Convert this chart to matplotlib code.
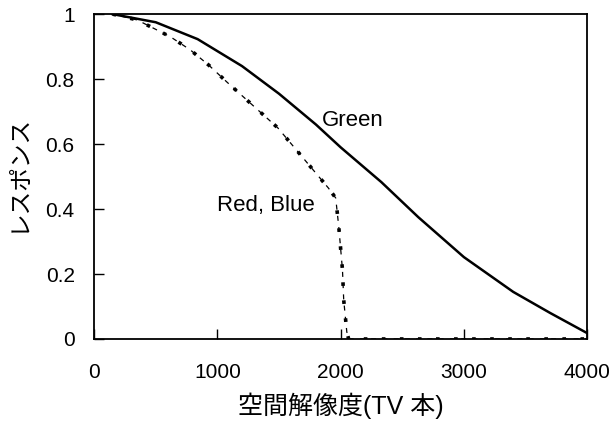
import matplotlib
matplotlib.use("Agg")
import matplotlib.pyplot as plt

plt.rcParams["font.family"] = ["Liberation Sans", "Noto Sans CJK JP", "DejaVu Sans"]

# Green レスポンス
green_x = [150, 500, 840, 1200, 1500, 1800, 2000, 2330, 2630, 3000, 3400, 3700, 4000]
green_y = [1.0, 0.975, 0.923, 0.84, 0.755, 0.66, 0.59, 0.483, 0.375, 0.252, 0.145, 0.08, 0.018]

# Red, Blue レスポンス
rb_x = [150, 350, 620, 780, 930, 1080, 1490, 1900, 1960, 1985, 2015, 2025, 2050, 2065, 4000]
rb_y = [1.0, 0.982, 0.93, 0.89, 0.843, 0.79, 0.65, 0.465, 0.434, 0.345, 0.212, 0.12, 0.022, 0.0, 0.0]

x_ticks = [0, 1000, 2000, 3000, 4000]
y_ticks = [0, 0.2, 0.4, 0.6, 0.8, 1]
y_tick_labels = ["0", "0.2", "0.4", "0.6", "0.8", "1"]

fig = plt.figure(figsize=(6.11, 4.28), dpi=100)
ax = fig.add_axes([0.154, 0.208, 0.807, 0.759])

ax.plot(green_x, green_y, color="black", lw=1.8)
ax.plot(rb_x, rb_y, color="black", lw=2.6, linestyle=(0, (1, 4)), solid_capstyle="butt")
ax.plot(rb_x, rb_y, color="black", lw=0.9, linestyle=(2, (4, 5)))

ax.text(1850, 0.674, "Green", fontsize=16, ha="left", va="center")
ax.text(1000, 0.412, "Red, Blue", fontsize=16, ha="left", va="center")

ax.set_xlim(0, 4000)
ax.set_ylim(0, 1)
ax.set_xticks(x_ticks)
ax.set_yticks(y_ticks)
ax.set_yticklabels(y_tick_labels)
ax.tick_params(direction="in", length=7, width=1, labelsize=15)
ax.tick_params(axis="x", pad=17)
ax.tick_params(axis="y", pad=14)
for s in ax.spines.values():
    s.set_linewidth(1.3)

ax.set_xlabel("空間解像度(TV 本)", fontsize=18, labelpad=8)
ax.set_ylabel("レスポンス", fontsize=17, labelpad=10)
ax.yaxis.set_label_coords(-0.13, 0.51)

fig.savefig("out.png", dpi=100)
